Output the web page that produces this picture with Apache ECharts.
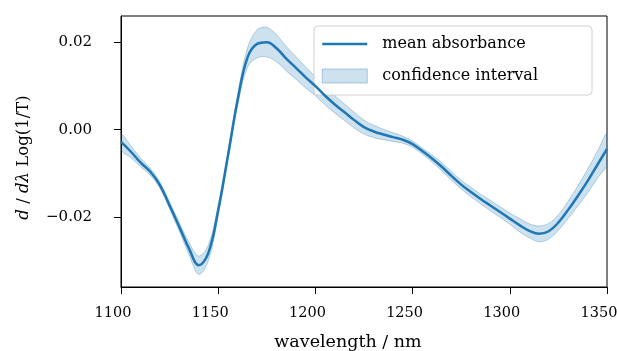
<!DOCTYPE html>
<html>
<head>
<meta charset="utf-8">
<script src="https://cdn.jsdelivr.net/npm/echarts@6/dist/echarts.min.js"></script>
<style>
  html, body { margin: 0; padding: 0; background: #fff; }
  #chart { width: 617px; height: 351px; }
</style>
</head>
<body>
<div id="chart"></div>
<script>
// wavelength grid (nm)
const wavelength = [
  1100, 1105, 1110, 1115, 1120, 1125, 1130, 1135, 1140, 1145,
  1150, 1155, 1160, 1165, 1170, 1175, 1180, 1185, 1190, 1195,
  1200, 1205, 1210, 1215, 1220, 1225, 1230, 1235, 1240, 1245,
  1250, 1255, 1260, 1265, 1270, 1275, 1280, 1285, 1290, 1295,
  1300, 1305, 1310, 1315, 1320, 1325, 1330, 1335, 1340, 1345, 1350
]
// mean first-derivative absorbance
const meanAbs = [
  -0.0028, -0.0050, -0.0075, -0.0096, -0.0127, -0.0174, -0.0223, -0.0273, -0.0311, -0.0282,
  -0.0185, -0.0060, 0.0068, 0.0165, 0.0197, 0.0201, 0.0187, 0.0163, 0.0142, 0.0120,
  0.0100, 0.0078, 0.0058, 0.0040, 0.0022, 0.0006, -0.0004, -0.0011, -0.0017, -0.0023,
  -0.0033, -0.0049, -0.0066, -0.0085, -0.0106, -0.0126, -0.0143, -0.0159, -0.0174, -0.0189,
  -0.0204, -0.0219, -0.0232, -0.0239, -0.0233, -0.0213, -0.0184, -0.0152, -0.0118, -0.0081, -0.0044
]
// half width of the confidence interval
const ciHalf = [
  0.0018, 0.0014, 0.0010, 0.0008, 0.0007, 0.0008, 0.0010, 0.0014, 0.0021, 0.0018,
  0.0012, 0.0010, 0.0012, 0.0022, 0.0032, 0.0034, 0.0031, 0.0028, 0.0026, 0.0024,
  0.0022, 0.0021, 0.0020, 0.0019, 0.0018, 0.0016, 0.0014, 0.0012, 0.0010, 0.0008,
  0.0007, 0.0007, 0.0008, 0.0009, 0.0010, 0.0010, 0.0011, 0.0011, 0.0012, 0.0012,
  0.0013, 0.0015, 0.0016, 0.0018, 0.0018, 0.0018, 0.0020, 0.0023, 0.0027, 0.0031, 0.0035
]
const yTicks = [-0.02, 0, 0.02]

const font = 'DejaVu Serif'
const blue = '#1f77b4'
const bandFill = 'rgba(31,119,180,0.22)'
const bandEdge = 'rgba(31,119,180,0.3)'

const chart = echarts.init(document.getElementById('chart'))

const upper = wavelength.map((w, i) => [w, meanAbs[i] + ciHalf[i]])
const lower = wavelength.map((w, i) => [w, meanAbs[i] - ciHalf[i]])
const mean = wavelength.map((w, i) => [w, meanAbs[i]])

chart.setOption({
  animation: false,
  textStyle: { fontFamily: font },
  grid: {
    left: 121, right: 10, top: 16, bottom: 64,
    outerBoundsMode: 'none',
    show: true, borderColor: '#000', borderWidth: 1
  },
  legend: {
    orient: 'vertical',
    left: 314, top: 26,
    padding: [10, 54, 11, 7],
    itemGap: 16,
    itemWidth: 45,
    itemHeight: 14,
    borderColor: '#d0d0d0',
    borderWidth: 1,
    borderRadius: 4,
    backgroundColor: 'rgba(255,255,255,0.85)',
    textStyle: { fontFamily: font, fontSize: 16, color: '#000', padding: [0, 0, 0, 10] },
    data: [
      {
        name: 'mean absorbance',
        itemStyle: { color: 'rgba(0,0,0,0)', borderColor: 'rgba(0,0,0,0)', borderWidth: 0 },
        lineStyle: { color: blue, width: 2.5 }
      },
      {
        name: 'confidence interval',
        icon: 'rect',
        itemStyle: { color: bandFill, borderColor: 'rgba(31,119,180,0.35)', borderWidth: 1 }
      }
    ]
  },
  xAxis: {
    type: 'value',
    min: 1100, max: 1350, interval: 50,
    name: 'wavelength / nm',
    nameLocation: 'middle',
    nameGap: 46,
    nameTextStyle: { fontFamily: font, fontSize: 17.5, color: '#000', padding: [0, 32, 0, 0] },
    axisLine: { onZero: false, lineStyle: { color: '#000', width: 1 } },
    axisTick: { length: 7, lineStyle: { color: '#000' } },
    axisLabel: {
      fontFamily: font, fontSize: 14.5, color: '#000', margin: 19,
      padding: [0, 16, 0, 0],
      formatter: v => String(v)
    },
    splitLine: { show: false }
  },
  yAxis: {
    type: 'value',
    min: -0.0361, max: 0.0261,
    name: '{i|d} / {i|dλ} Log(1/T)',
    nameLocation: 'middle',
    nameGap: 89,
    nameRotate: 90,
    nameTextStyle: {
      fontFamily: font, fontSize: 16.5, color: '#000',
      padding: [0, 12, 0, 0],
      rich: { i: { fontFamily: font, fontSize: 16.5, fontStyle: 'italic', color: '#000' } }
    },
    axisLine: { show: true, onZero: false, lineStyle: { color: '#000', width: 1 } },
    axisTick: { show: true, length: 7, lineStyle: { color: '#000' }, customValues: yTicks },
    axisLabel: {
      fontFamily: font, fontSize: 15, color: '#000', margin: 29,
      customValues: yTicks,
      formatter: v => (v < -1e-9 ? '\u2212' : '') + Math.abs(v).toFixed(2)
    },
    splitLine: { show: false }
  },
  series: [
    {
      // confidence band as one polygon: upper edge forward, lower edge back
      name: 'confidence interval',
      type: 'custom',
      coordinateSystem: 'cartesian2d',
      data: [[wavelength[0], meanAbs[0]]],
      clip: true,
      silent: true,
      itemStyle: { color: bandFill },
      renderItem: (params, api) => {
        const top = upper.map(p => api.coord(p))
        const bottom = lower.slice().reverse().map(p => api.coord(p))
        return {
          type: 'polygon',
          shape: { points: top.concat(bottom), smooth: 0.35 },
          style: { fill: bandFill, stroke: bandEdge, lineWidth: 1 }
        }
      }
    },
    {
      name: 'mean absorbance',
      type: 'line',
      data: mean,
      smooth: 0.4,
      symbol: 'none',
      lineStyle: { color: blue, width: 2.5 },
      itemStyle: { color: blue },
      z: 5
    }
  ]
})
</script>
</body>
</html>
